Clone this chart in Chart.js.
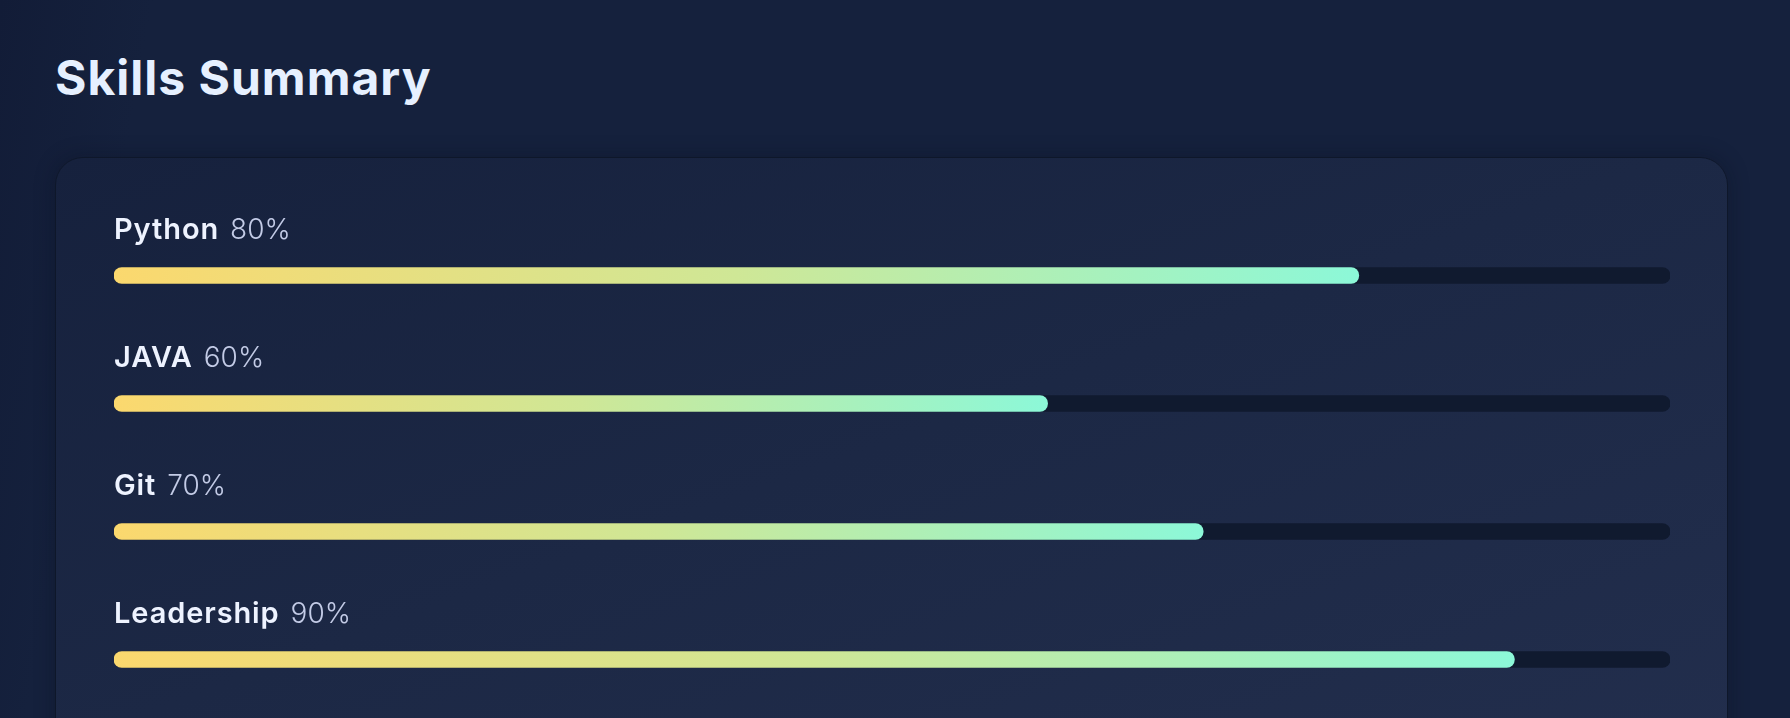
<!DOCTYPE html>
<html>
<head>
<meta charset="utf-8">
<script src="https://cdn.jsdelivr.net/npm/chart.js@4"></script>
<style>
  html, body { margin: 0; padding: 0; width: 1790px; height: 718px; overflow: hidden; }
  body { background: linear-gradient(100deg, #121c37 0%, #15213d 8%, #15213d 100%); font-family: Inter, "Noto Sans", sans-serif; position: relative; }
  h1 { position: absolute; left: 55px; top: 54px; margin: 0; font-size: 48px; line-height: 48px; font-weight: 700; color: #e6f0ff; letter-spacing: 1px; }
  .card { position: absolute; left: 55px; top: 157px; width: 1671px; height: 700px; border: 1px solid #0e172a; border-radius: 28px; background: linear-gradient(160deg, #16213d 0%, #1c2845 45%, #232f4e 100%); box-shadow: 0 0 20px rgba(8, 14, 30, 0.35); }
  .wrap { position: absolute; left: 55px; top: 157px; width: 1673px; height: 583px; }
</style>
</head>
<body>
<h1>Skills Summary</h1>
<div class="card"></div>
<div class="wrap"><canvas id="c"></canvas></div>
<script>
const skills = ['Python', 'JAVA', 'Git', 'Leadership'];
const levels = [80, 60, 70, 90];
const trackMax = [100, 100, 100, 100];

const labelPlugin = {
  id: 'skillLabels',
  afterDatasetsDraw(chart) {
    const ctx = chart.ctx;
    const meta = chart.getDatasetMeta(1);
    const left = chart.chartArea.left;
    ctx.save();
    ctx.textBaseline = 'alphabetic';
    ctx.textAlign = 'left';
    meta.data.forEach((bar, i) => {
      const y = bar.y - 36.5;
      ctx.letterSpacing = '0.9px';
      ctx.font = '600 29px Inter, "Noto Sans", sans-serif';
      ctx.fillStyle = '#eef3ff';
      ctx.fillText(skills[i], left, y);
      const w = ctx.measureText(skills[i]).width;
      ctx.letterSpacing = '0px';
      ctx.font = '300 28px Inter, "Noto Sans", sans-serif';
      ctx.fillStyle = '#c3cbe6';
      ctx.fillText(levels[i] + '%', left + w + 11, y);
    });
    ctx.restore();
  }
};

new Chart(document.getElementById('c'), {
  type: 'bar',
  data: {
    labels: skills,
    datasets: [
      {
        data: trackMax,
        backgroundColor: '#101a2f',
        borderRadius: 8,
        borderSkipped: false,
        barThickness: 16,
        grouped: false,
        order: 2
      },
      {
        data: levels,
        backgroundColor: (c) => {
          const chart = c.chart;
          if (!chart.chartArea || c.raw === undefined) return '#f9d96f';
          const x = chart.scales.x;
          const g = chart.ctx.createLinearGradient(x.getPixelForValue(0), 0, x.getPixelForValue(c.raw), 0);
          g.addColorStop(0, '#fbd86e');
          g.addColorStop(0.5, '#cfe796');
          g.addColorStop(1, '#8cf8d8');
          return g;
        },
        borderRadius: 8,
        borderSkipped: false,
        barThickness: 16,
        grouped: false,
        order: 1
      }
    ]
  },
  options: {
    indexAxis: 'y',
    responsive: true,
    maintainAspectRatio: false,
    animation: false,
    layout: { padding: { left: 59, right: 58, top: 54.5, bottom: 16.5 } },
    plugins: { legend: { display: false }, tooltip: { enabled: false } },
    scales: {
      x: { min: 0, max: 100, display: false },
      y: { display: false }
    }
  },
  plugins: [labelPlugin]
});
</script>
</body>
</html>
